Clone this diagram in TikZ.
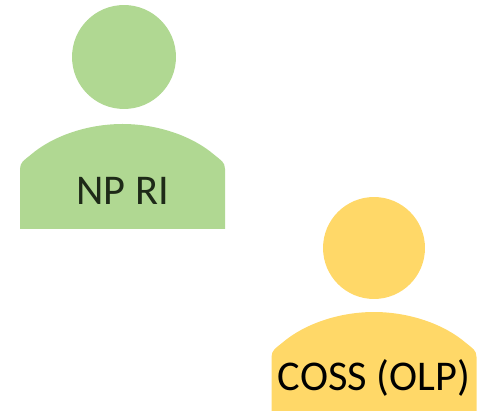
\documentclass[tikz,border=0pt]{standalone}
\usepackage{fontspec}
\setmainfont{Carlito}
\definecolor{npgreen}{HTML}{B0D892}
\definecolor{ossyellow}{HTML}{FFD868}
\definecolor{nptext}{HTML}{1E2A18}
\tikzset{
    head/.style={circle,inner sep=0pt,minimum size=#1*0.04cm},
    tag/.style={anchor=base,inner sep=0pt,font=\fontsize{24.1}{28}\selectfont}
}
\begin{document}
\begin{tikzpicture}[x=0.02cm,y=-0.02cm]
    \useasboundingbox (0,0) rectangle (479,411);
    \foreach \nm/\hx/\cx/\cy/\rd/\tp/\bt/\bl/\col/\txt/\lab in {np/124/122.5/57/52/124/229/205/npgreen/nptext/NP RI,oss/374/374/248/51/312/411/390/ossyellow/black/COSS (OLP)} {
        \node [head=\rd,fill=\col] (\nm head) at (\hx,\cy) {};
        \fill [\col] ({\cx-102.5},\bt) -- ({\cx-102.5},\tp+45)
            .. controls ({\cx-102.5},\tp+38) and ({\cx-98},\tp+36) .. ({\cx-92},\tp+31)
            .. controls ({\cx-70},\tp+12) and ({\cx-35},\tp) .. (\cx,\tp)
            .. controls ({\cx+35},\tp) and ({\cx+70},\tp+12) .. ({\cx+92},\tp+31)
            .. controls ({\cx+98},\tp+36) and ({\cx+102.5},\tp+38) .. ({\cx+102.5},\tp+45)
            -- ({\cx+102.5},\bt) -- cycle;
        \node [tag,text=\txt] (\nm tag) at (\cx,\bl) {\lab};
    }
\end{tikzpicture}
\end{document}
